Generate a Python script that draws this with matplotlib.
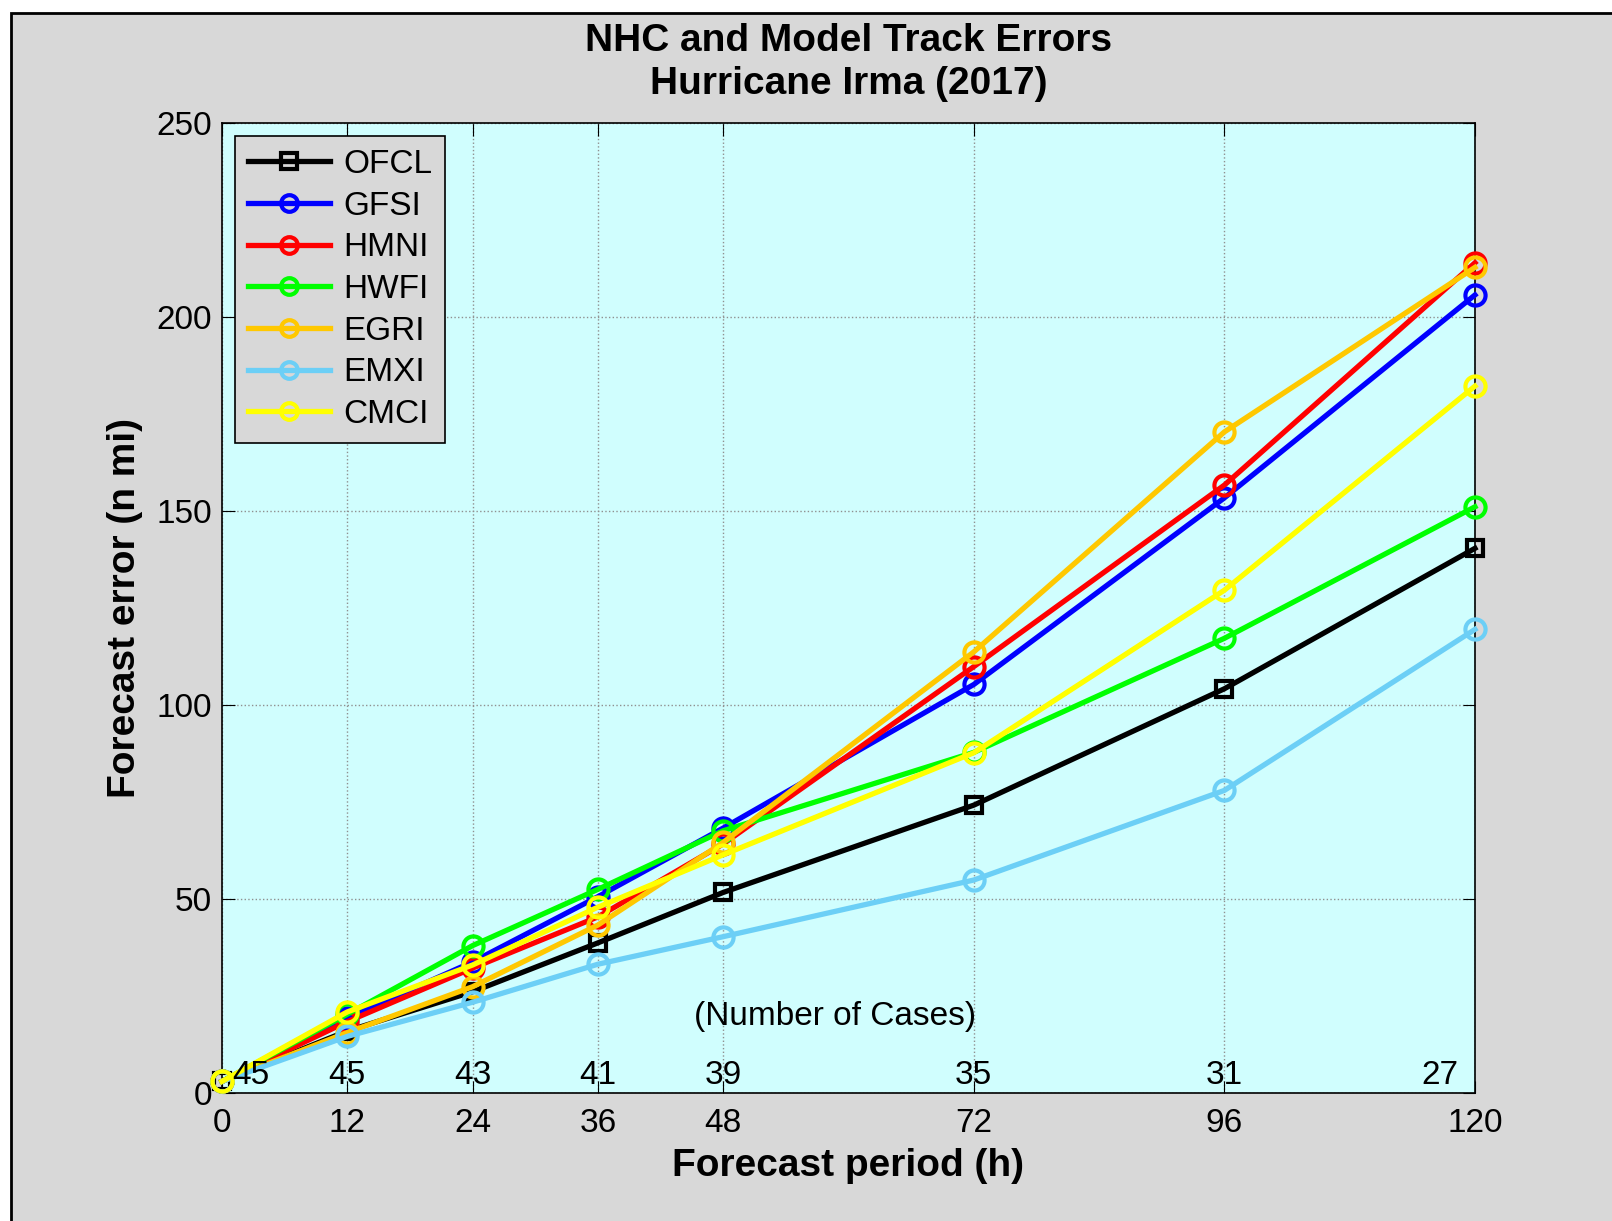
import matplotlib
matplotlib.use("Agg")
import matplotlib.pyplot as plt
from matplotlib.patches import Rectangle

# forecast hours and track errors (n mi)
hours = [0, 12, 24, 36, 48, 72, 96, 120]
ofcl = [3.0, 16.0, 26.1, 38.7, 51.7, 74.2, 104.2, 140.4]
gfsi = [3.0, 19.4, 33.8, 50.6, 68.3, 105.3, 153.4, 205.7]
hmni = [3.0, 18.4, 32.2, 45.4, 64.2, 109.9, 156.7, 214.0]
hwfi = [3.0, 20.3, 38.0, 52.5, 67.6, 87.8, 117.2, 151.1]
egri = [3.0, 15.6, 27.4, 43.3, 64.6, 113.7, 170.4, 212.8]
emxi = [3.0, 14.6, 23.4, 33.2, 40.3, 54.9, 78.0, 119.5]
cmci = [3.0, 20.9, 33.0, 47.9, 61.4, 87.7, 129.6, 182.2]

models = ["OFCL", "GFSI", "HMNI", "HWFI", "EGRI", "EMXI", "CMCI"]
errors = [ofcl, gfsi, hmni, hwfi, egri, emxi, cmci]
colors = ["black", "#0000ff", "#ff0000", "#00ff00", "#ffc800", "#6ccff6", "#ffff00"]

n_cases = [45, 45, 43, 41, 39, 35, 31, 27]

plt.rcParams['font.family'] = ['Liberation Sans', 'DejaVu Sans']

fig = plt.figure(figsize=(16.12, 12.21), dpi=100, facecolor="white")
fig.patches.append(Rectangle((11 / 1612, -0.1), 1.2, 1.1 - 13 / 1221,
                             transform=fig.transFigure, facecolor="#d8d8d8",
                             edgecolor="black", linewidth=2, zorder=-5))

ax = fig.add_axes([0.1377, 0.1048, 0.7773, 0.7944])
ax.set_zorder(2)
ax.set_facecolor("#d0fefe")

for name, vals, c in zip(models, errors, colors):
    mk = "s" if name == "OFCL" else "o"
    ms = 11 if name == "OFCL" else 14.5
    ax.plot(hours, vals, color=c, linewidth=3.8, marker=mk, markersize=ms,
            markerfacecolor="none", markeredgewidth=3, label=name,
            clip_on=False, zorder=3)

ax.set_xlim(0, 120)
ax.set_ylim(0, 250)
ax.set_xticks(hours)
ax.set_yticks(range(0, 251, 50))
ax.tick_params(direction="in", length=9, top=True, right=True,
               labelsize=24, pad=7)
ax.tick_params(axis="x", pad=11)
ax.grid(True, linestyle=":", color="#909090", linewidth=1)
for s in ax.spines.values():
    s.set_linewidth(1.2)

# number of cases along the bottom
case_x = list(hours)
case_x[0] = 2.8
case_x[-1] = 116.6
for x, n in zip(case_x, n_cases):
    ax.text(x, 4.6, str(n), ha="center", va="center", fontsize=24, zorder=4)
ax.text(58.7, 19.8, "(Number of Cases)", ha="center", va="center", fontsize=24)

ax.set_xlabel("Forecast period (h)", fontsize=28, fontweight="bold", labelpad=6)
ax.set_ylabel("Forecast error (n mi)", fontsize=28, fontweight="bold", labelpad=10)
ax.set_title("NHC and Model Track Errors\nHurricane Irma (2017)",
             fontsize=28, fontweight="bold", pad=21, linespacing=1.25)

leg = ax.legend(loc="upper left", fontsize=24, handlelength=2.45,
                borderaxespad=0.4, labelspacing=0.32, fancybox=False,
                edgecolor="black", framealpha=1, facecolor="#d8d8d8",
                borderpad=0.38, handletextpad=0.42)
leg.get_frame().set_linewidth(1.2)
for h in leg.legend_handles:
    h.set_markersize(12)
    h.set_markeredgewidth(3)

fig.savefig("out.png", dpi=100, facecolor=fig.get_facecolor())
